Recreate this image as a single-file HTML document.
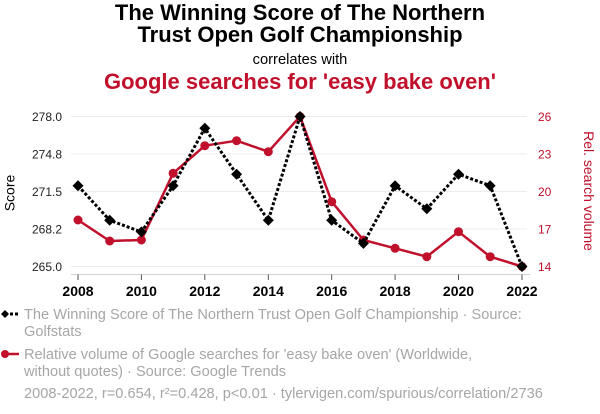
<!DOCTYPE html>
<html>
<head>
<meta charset="utf-8">
<style>
  html, body { margin: 0; padding: 0; background: #fff; }
  svg { display: block; }
  text { font-family: "Liberation Sans", Arial, sans-serif; }
</style>
</head>
<body>
<svg width="600" height="414" viewBox="0 0 600 414" xmlns="http://www.w3.org/2000/svg">
  <!-- Titles -->
  <text x="300" y="20" text-anchor="middle" font-size="22" font-weight="bold" fill="#000">The Winning Score of The Northern</text>
  <text x="300" y="42" text-anchor="middle" font-size="22" font-weight="bold" fill="#000">Trust Open Golf Championship</text>
  <text x="300" y="64" text-anchor="middle" font-size="14.7" fill="#000">correlates with</text>
  <text x="300" y="89" text-anchor="middle" font-size="22" font-weight="bold" fill="#c0102c">Google searches for 'easy bake oven'</text>

  <!-- Gridlines -->
  <g stroke="#ececec" stroke-width="1">
    <line x1="71" y1="116.5" x2="527" y2="116.5"/>
    <line x1="71" y1="154" x2="527" y2="154"/>
    <line x1="71" y1="191.5" x2="527" y2="191.5"/>
    <line x1="71" y1="229" x2="527" y2="229"/>
    <line x1="71" y1="266.5" x2="527" y2="266.5"/>
  </g>

  <!-- X axis -->
  <line x1="71" y1="274.5" x2="530" y2="274.5" stroke="#d0d0d0" stroke-width="1"/>
  <g stroke="#555" stroke-width="1">
    <line x1="78" y1="274.5" x2="78" y2="280"/>
    <line x1="141.4" y1="274.5" x2="141.4" y2="280"/>
    <line x1="204.8" y1="274.5" x2="204.8" y2="280"/>
    <line x1="268.3" y1="274.5" x2="268.3" y2="280"/>
    <line x1="331.7" y1="274.5" x2="331.7" y2="280"/>
    <line x1="395.1" y1="274.5" x2="395.1" y2="280"/>
    <line x1="458.5" y1="274.5" x2="458.5" y2="280"/>
    <line x1="522" y1="274.5" x2="522" y2="280"/>
  </g>
  <g font-size="14" font-weight="bold" fill="#000" text-anchor="middle">
    <text x="78" y="296">2008</text>
    <text x="141.4" y="296">2010</text>
    <text x="204.8" y="296">2012</text>
    <text x="268.3" y="296">2014</text>
    <text x="331.7" y="296">2016</text>
    <text x="395.1" y="296">2018</text>
    <text x="458.5" y="296">2020</text>
    <text x="522" y="296">2022</text>
  </g>

  <!-- Left axis labels -->
  <g font-size="12" fill="#222" text-anchor="end">
    <text x="62" y="120.8">278.0</text>
    <text x="62" y="158.3">274.8</text>
    <text x="62" y="195.8">271.5</text>
    <text x="62" y="233.3">268.2</text>
    <text x="62" y="270.8">265.0</text>
  </g>
  <text transform="translate(14.5,193) rotate(-90)" text-anchor="middle" font-size="14" fill="#000">Score</text>

  <!-- Right axis labels -->
  <g font-size="12" fill="#c0102c" text-anchor="start">
    <text x="538" y="120.8">26</text>
    <text x="538" y="158.3">23</text>
    <text x="538" y="195.8">20</text>
    <text x="538" y="233.3">17</text>
    <text x="538" y="270.8">14</text>
  </g>
  <text transform="translate(584,191) rotate(90)" text-anchor="middle" font-size="14" fill="#c0102c">Rel. search volume</text>

  <!-- Red series -->
  <polyline fill="none" stroke="#c0102c" stroke-width="2.5" stroke-linejoin="round"
    points="78,220 109.7,241 141.4,240 173.1,173.3 204.8,145.7 236.6,140.7 268.3,151.7 300,116.5 331.7,201.7 363.4,240 395.1,248.3 426.8,256.7 458.5,231.7 490.2,256.7 522,266.5"/>
  <g fill="#c0102c">
    <circle cx="78" cy="220" r="4.5"/>
    <circle cx="109.7" cy="241" r="4.5"/>
    <circle cx="141.4" cy="240" r="4.5"/>
    <circle cx="173.1" cy="173.3" r="4.5"/>
    <circle cx="204.8" cy="145.7" r="4.5"/>
    <circle cx="236.6" cy="140.7" r="4.5"/>
    <circle cx="268.3" cy="151.7" r="4.5"/>
    <circle cx="300" cy="116.5" r="4.5"/>
    <circle cx="331.7" cy="201.7" r="4.5"/>
    <circle cx="363.4" cy="240" r="4.5"/>
    <circle cx="395.1" cy="248.3" r="4.5"/>
    <circle cx="426.8" cy="256.7" r="4.5"/>
    <circle cx="458.5" cy="231.7" r="4.5"/>
    <circle cx="490.2" cy="256.7" r="4.5"/>
    <circle cx="522" cy="266.5" r="4.5"/>
  </g>

  <!-- Black series -->
  <polyline fill="none" stroke="#000" stroke-width="3" stroke-dasharray="3,2"
    points="78,185.7 109.7,220.3 141.4,231.9 173.1,185.7 204.8,128.2 236.6,174.2 268.3,220.3 300,116.5 331.7,220.3 363.4,243.4 395.1,185.7 426.8,208.8 458.5,174.2 490.2,185.7 522,266.5"/>
  <g fill="#000">
    <path d="M78,180.2 L83.5,185.7 L78,191.2 L72.5,185.7 Z"/>
    <path d="M109.7,214.8 L115.2,220.3 L109.7,225.8 L104.2,220.3 Z"/>
    <path d="M141.4,226.4 L146.9,231.9 L141.4,237.4 L135.9,231.9 Z"/>
    <path d="M173.1,180.2 L178.6,185.7 L173.1,191.2 L167.6,185.7 Z"/>
    <path d="M204.8,122.7 L210.3,128.2 L204.8,133.7 L199.3,128.2 Z"/>
    <path d="M236.6,168.7 L242.1,174.2 L236.6,179.7 L231.1,174.2 Z"/>
    <path d="M268.3,214.8 L273.8,220.3 L268.3,225.8 L262.8,220.3 Z"/>
    <path d="M300,111 L305.5,116.5 L300,122 L294.5,116.5 Z"/>
    <path d="M331.7,214.8 L337.2,220.3 L331.7,225.8 L326.2,220.3 Z"/>
    <path d="M363.4,237.9 L368.9,243.4 L363.4,248.9 L357.9,243.4 Z"/>
    <path d="M395.1,180.2 L400.6,185.7 L395.1,191.2 L389.6,185.7 Z"/>
    <path d="M426.8,203.3 L432.3,208.8 L426.8,214.3 L421.3,208.8 Z"/>
    <path d="M458.5,168.7 L464,174.2 L458.5,179.7 L453,174.2 Z"/>
    <path d="M490.2,180.2 L495.7,185.7 L490.2,191.2 L484.7,185.7 Z"/>
    <path d="M522,261 L527.5,266.5 L522,272 L516.5,266.5 Z"/>
  </g>

  <!-- Legend -->
  <line x1="5" y1="314" x2="19" y2="314" stroke="#000" stroke-width="3" stroke-dasharray="3,2"/>
  <path d="M5,310 L9,314 L5,318 L1,314 Z" fill="#000"/>
  <g font-size="14.6" fill="#a6a6a6">
    <text x="24" y="319">The Winning Score of The Northern Trust Open Golf Championship · Source:</text>
    <text x="24" y="336">Golfstats</text>
  </g>
  <line x1="4" y1="354" x2="19" y2="354" stroke="#c0102c" stroke-width="2.5"/>
  <circle cx="5" cy="354" r="4" fill="#c0102c"/>
  <g font-size="14.6" fill="#a6a6a6">
    <text x="24" y="359">Relative volume of Google searches for 'easy bake oven' (Worldwide,</text>
    <text x="24" y="376">without quotes) · Source: Google Trends</text>
    <text x="24" y="398">2008-2022, r=0.654, r²=0.428, p&lt;0.01 · tylervigen.com/spurious/correlation/2736</text>
  </g>
</svg>
</body>
</html>
